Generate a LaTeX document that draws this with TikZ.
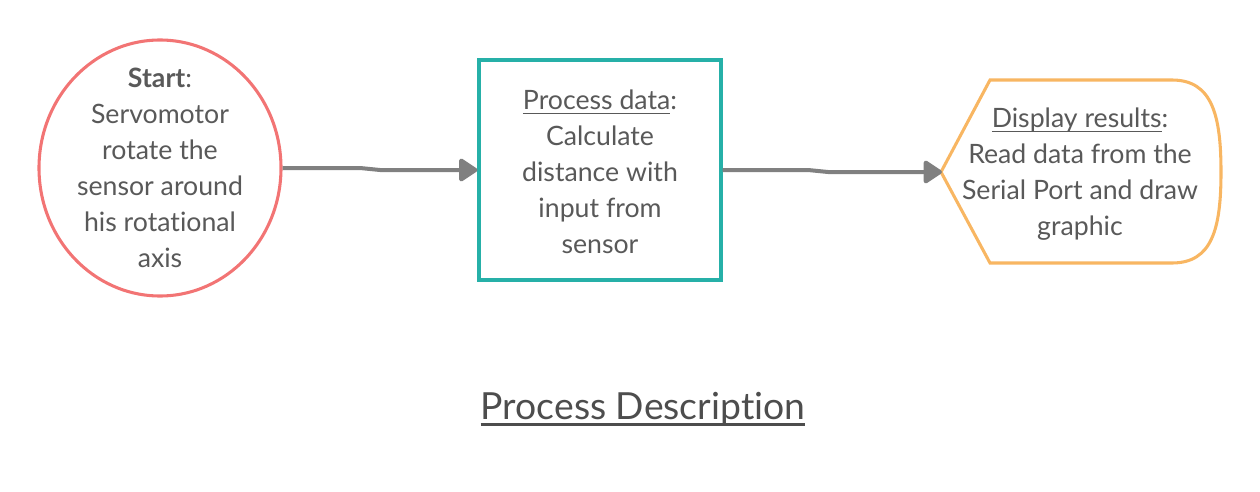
\documentclass[tikz,border=0pt]{standalone}
\usepackage{fontspec}
\setmainfont{Lato}[Ligatures=CommonOff]
\usetikzlibrary{arrows.meta,shapes.geometric}
\definecolor{txtgray}{HTML}{595959}
\definecolor{titlegray}{HTML}{4D4D4D}
\definecolor{linegray}{HTML}{808080}
\definecolor{startred}{HTML}{F27474}
\definecolor{procteal}{HTML}{26B0A8}
\definecolor{disporange}{HTML}{F8B662}
\newcommand\myul[1]{\leavevmode\setbox0=\hbox{#1}\rlap{\rule[-0.17em]{\wd0}{0.065em}}\box0}
\tikzset{
  bodytext/.style={text=txtgray, align=center, font=\fontsize{20}{27}\selectfont, inner sep=0pt},
  shapeline/.style={line width=2.3pt},
  conn/.style={draw=linegray, line width=3pt, -{Triangle[length=15pt,width=19pt,round]}},
}
\begin{document}
\begin{tikzpicture}[x=0.75pt,y=-0.75pt]
\useasboundingbox (0,0) rectangle (1260,492);
% Start ellipse
\node[ellipse, draw=startred, shapeline, minimum width=181.5pt, minimum height=192pt, inner sep=0pt] (start) at (160,168) {};
\node[bodytext] (starttext) at (160,168) {\textbf{Start}:\\Servomotor\\rotate the\\sensor around\\his rotational\\axis};
% Process rectangle
\node[rectangle, draw=procteal, shapeline, minimum width=181.5pt, minimum height=165pt] (proc) at (600,170) {};
\node[bodytext] (proctext) at (600,172) {\myul{Process data}:\\Calculate\\distance with\\input from\\sensor};
% Display shape
\draw[disporange, shapeline, line join=miter] (941,172) -- (990,80) -- (1172,80) .. controls (1212,80) and (1221,115) .. (1221,172) .. controls (1221,229) and (1212,263) .. (1172,263) -- (990,263) -- cycle;
\node[bodytext] (disp) at (1080,174.5) {\myul{Display results}:\\Read data from the\\Serial Port and draw\\graphic};
\coordinate (dispwest) at (942,172);
% connectors
\coordinate (j1a) at (360,168);
\coordinate (j1b) at (380,170);
\coordinate (j2a) at (808,170);
\coordinate (j2b) at (828,172);
\draw[conn] (start.east) -- (j1a) -- (j1b) -- (proc.west);
\draw[conn] (proc.east) -- (j2a) -- (j2b) -- (dispwest);
% title
\node[text=titlegray, font=\fontsize{28}{34}\selectfont, inner sep=0pt] (title) at (643,409) {\myul{Process Description}};
\end{tikzpicture}
\end{document}
